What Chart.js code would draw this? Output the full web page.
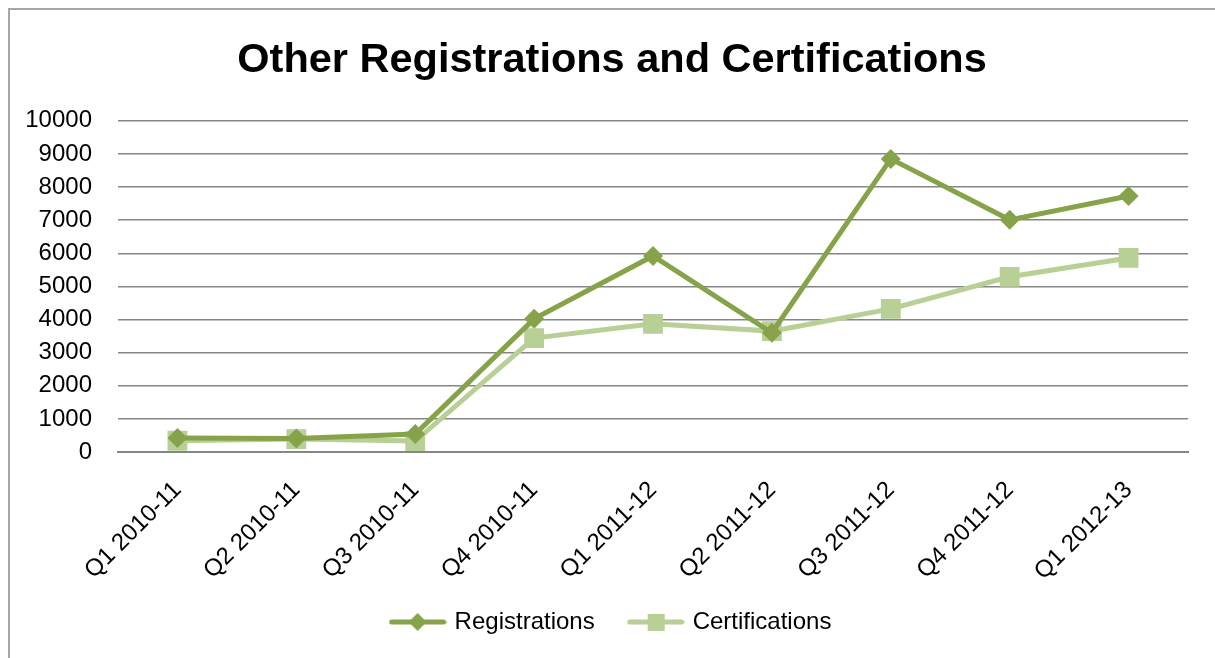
<!DOCTYPE html>
<html>
<head>
<meta charset="utf-8">
<script src="https://cdn.jsdelivr.net/npm/chart.js@4"></script>
<style>
  html, body { margin: 0; padding: 0; background: #fff; overflow: hidden; }
  #wrap { position: absolute; left: 0; top: 0; width: 1215px; height: 658px; }
  #frame { position: absolute; left: 8px; top: 8px; width: 1300px; height: 700px;
           border-left: 2px solid #a6a6a6; border-top: 2px solid #a6a6a6; pointer-events: none; }
</style>
</head>
<body>
<div id="wrap"><canvas id="chart" width="1215" height="658"></canvas></div>
<div id="frame"></div>
<script>
(function () {
  'use strict';

  // -- Data --
  var quarters = ['Q1 2010-11', 'Q2 2010-11', 'Q3 2010-11', 'Q4 2010-11',
                  'Q1 2011-12', 'Q2 2011-12', 'Q3 2011-12', 'Q4 2011-12', 'Q1 2012-13'];
  var registrations = [420, 410, 540, 4020, 5920, 3600, 8850, 7010, 7730];
  var certifications = [340, 390, 330, 3440, 3870, 3650, 4320, 5290, 5860];
  var yTicks = [0, 1000, 2000, 3000, 4000, 5000, 6000, 7000, 8000, 9000, 10000];

  var REG_COLOR = '#86a34a';
  var CERT_COLOR = '#b8cf96';
  var FONT = "'Liberation Sans', Arial, sans-serif";

  Chart.defaults.font.family = FONT;
  Chart.defaults.color = '#000';

  // -- Legend swatch: line with marker, like the office legend --
  function swatch(color, shape) {
    var c = document.createElement('canvas');
    c.width = 58; c.height = 22;
    var g = c.getContext('2d');
    g.strokeStyle = color;
    g.lineWidth = 5;
    g.lineCap = 'round';
    g.beginPath(); g.moveTo(3, 11); g.lineTo(55, 11); g.stroke();
    g.fillStyle = color;
    if (shape === 'diamond') {
      g.beginPath(); g.moveTo(29, 2); g.lineTo(38, 11); g.lineTo(29, 20); g.lineTo(20, 11); g.closePath(); g.fill();
    } else {
      g.fillRect(21, 3, 17, 17);
    }
    return c;
  }
  var swatches = [swatch(REG_COLOR, 'diamond'), swatch(CERT_COLOR, 'square')];

  // tick labels hang outside their axis boxes; widen the label clip boxes
  var widenLabels = {
    id: 'widenLabels',
    afterLayout: function (chart) {
      if (chart.scales.y) chart.scales.y.left = 0;
      if (chart.scales.x) chart.scales.x.bottom = chart.height;
    }
  };

  new Chart(document.getElementById('chart'), {
    type: 'line',
    plugins: [widenLabels],
    data: {
      labels: quarters,
      datasets: [
        {
          label: 'Registrations',
          data: registrations,
          borderColor: REG_COLOR,
          backgroundColor: REG_COLOR,
          borderWidth: 5,
          pointStyle: 'rectRot',
          pointRadius: 10,
          pointBorderWidth: 0,
          tension: 0,
        },
        {
          label: 'Certifications',
          data: certifications,
          borderColor: CERT_COLOR,
          backgroundColor: CERT_COLOR,
          borderWidth: 5,
          pointStyle: 'rect',
          pointRadius: 14,
          pointBorderWidth: 0,
          tension: 0,
        }
      ]
    },
    options: {
      responsive: false,
      animation: false,
      events: [],
      layout: { padding: { left: 36, right: 27, top: 16, bottom: 14 } },
      plugins: {
        title: {
          display: true,
          text: 'Other Registrations and Certifications',
          font: { size: 41.5, weight: 'bold', family: FONT },
          color: '#000',
          padding: { top: 20, bottom: 35 },
        },
        legend: {
          position: 'bottom',
          labels: {
            usePointStyle: true,
            pointStyleWidth: 50,
            font: { size: 24, family: FONT },
            color: '#000',
            padding: 36,
            generateLabels: function (chart) {
              return chart.data.datasets.map(function (ds, i) {
                return {
                  text: ds.label,
                  pointStyle: swatches[i],
                  fillStyle: ds.borderColor,
                  strokeStyle: ds.borderColor,
                  lineWidth: 0,
                  datasetIndex: i,
                  hidden: false,
                };
              });
            }
          }
        },
        tooltip: { enabled: false },
      },
      scales: {
        x: {
          offset: true,
          afterFit: function (axis) { axis.height = 122; },
          grid: { display: false },
          border: { display: true, color: '#868686', width: 2 },
          ticks: {
            autoSkip: false,
            maxRotation: 45,
            minRotation: 45,
            padding: 16,
            font: { size: 24, family: FONT },
            color: '#000',
          },
        },
        y: {
          min: 0,
          max: 10000,
          afterBuildTicks: function (axis) {
            axis.ticks = yTicks.map(function (v) { return { value: v }; });
          },
          afterFit: function (axis) { axis.width = 82; },
          grid: { color: '#868686', lineWidth: 1.5, drawTicks: false },
          border: { display: false },
          ticks: {
            padding: 26,
            font: { size: 24, family: FONT },
            color: '#000',
            callback: function (v) { return String(v); },
          },
        },
      },
    }
  });
})();
</script>
</body>
</html>
